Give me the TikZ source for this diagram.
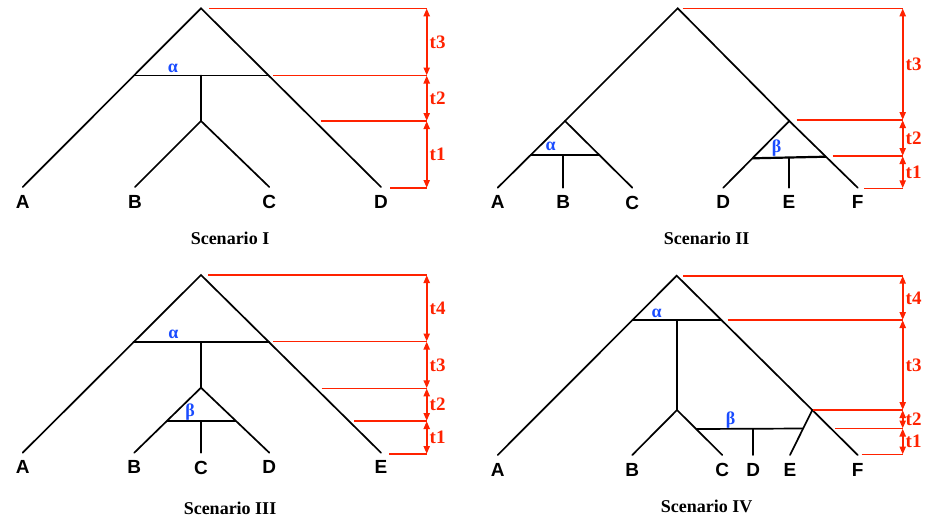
\documentclass[tikz,border=0pt]{standalone}
\usepackage{fontspec}
\setmainfont{Liberation Serif}
\newfontfamily\leaffont{Liberation Sans}
\definecolor{timered}{HTML}{FF2200}
\definecolor{hybblue}{HTML}{1A4CFF}
\usetikzlibrary{arrows.meta, positioning}

\begin{document}
\begin{tikzpicture}[x=1pt, y=-1pt, >={Triangle[length=8pt, width=6pt]},
  branch/.style={line width=1.7pt, line cap=round},
  hybrid/.style={line width=2.2pt},
  timeline/.style={line width=1.6pt, timered},
  timearrow/.style={<->, line width=2pt, timered},
  leaf/.style={font=\leaffont\bfseries\fontsize{19}{19}\selectfont, inner sep=0pt, below=8pt of #1},
  tlab/.style={font=\bfseries\fontsize{19}{19}\selectfont, timered, right, inner sep=2pt},
  greek/.style={font=\bfseries\fontsize{18}{18}\selectfont, hybblue, inner sep=0pt},
  caption/.style={font=\bfseries\fontsize{18}{18}\selectfont}]
  \useasboundingbox (0,0) rectangle (925,520);

  % Scenario I
  \coordinate (Iroot) at (201,8.3);
  \coordinate (Ial) at (134,75.5);
  \coordinate (Iar) at (268.7,75.5);
  \coordinate (Iam) at (201,75.5);
  \coordinate (Ibc) at (201,121);
  \coordinate (IA) at (22.7,187);
  \coordinate (IB) at (135,187);
  \coordinate (IC) at (269.3,187);
  \coordinate (ID) at (381,187);
  \draw[branch] (IA) -- (Iroot) -- (ID);
  \draw[branch] (Ial) -- (Iar);
  \draw[branch] (Iam) -- (Ibc);
  \draw[branch] (IB) -- (Ibc) -- (IC);
  \node[greek] (Ialpha) at (173,68.3) {α};
  \node[leaf=IA] (IlA) {A};
  \node[leaf=IB] (IlB) {B};
  \node[leaf=IC] (IlC) {C};
  \node[leaf=ID] (IlD) {D};
  \coordinate (It3a) at (209,8.3);   \coordinate (It3b) at (426.7,8.3);
  \coordinate (It2a) at (273.3,75.5); \coordinate (It2b) at (426.7,75.5);
  \coordinate (It1a) at (320.7,121); \coordinate (It1b) at (426.7,121);
  \coordinate (It0a) at (390,188);   \coordinate (It0b) at (426.7,188);
  \foreach \t in {3,2,1,0} \draw[timeline] (It\t a) -- (It\t b);
  \draw[timearrow] (It3b) -- node[tlab] {t3} (It2b);
  \draw[timearrow] (It2b) -- node[tlab] {t2} (It1b);
  \draw[timearrow] (It1b) -- node[tlab] {t1} (It0b);
  \node[caption] (Icap) at (230,238.3) {Scenario I};

  % Scenario II
  \coordinate (IIroot) at (677.7,8.3);
  \coordinate (IIl) at (565,121);
  \coordinate (IIr) at (789.3,121);
  \coordinate (IIA) at (497.7,187.7);
  \coordinate (IIB) at (563.3,187.7);
  \coordinate (IIC) at (632.3,187.7);
  \coordinate (IID) at (723.3,187.7);
  \coordinate (IIE) at (789,187.7);
  \coordinate (IIF) at (857.7,187.7);
  \coordinate (IIal) at (530.7,155);
  \coordinate (IIar) at (599.3,155);
  \coordinate (IIam) at (563.3,155);
  \coordinate (IIbl) at (752.4,158.3);
  \coordinate (IIbr) at (825.9,156.7);
  \coordinate (IIbm) at (789,157.5);
  \draw[branch] (IIl) -- (IIroot) -- (IIr);
  \draw[branch] (IIA) -- (IIl) -- (IIC);
  \draw[branch] (IID) -- (IIr) -- (IIF);
  \draw[branch] (IIal) -- (IIar);
  \draw[branch] (IIam) -- (IIB);
  \draw[hybrid] (IIbl) -- (IIbr);
  \draw[branch] (IIbm) -- (IIE);
  \node[greek] (IIalpha) at (550.7,146.7) {α};
  \node[greek] (IIbeta) at (776.7,148.3) {β};
  \foreach \l in {A,B,C,D,E,F} \node[leaf=II\l] (IIl\l) {\l};
  \coordinate (IIt3a) at (682.7,8.3);  \coordinate (IIt3b) at (902.7,8.3);
  \coordinate (IIt2a) at (796.7,120);  \coordinate (IIt2b) at (902.7,120);
  \coordinate (IIt1a) at (832.7,156);  \coordinate (IIt1b) at (902.7,156);
  \coordinate (IIt0a) at (864.3,188.3); \coordinate (IIt0b) at (902.7,188.3);
  \foreach \t in {3,2,1,0} \draw[timeline] (IIt\t a) -- (IIt\t b);
  \draw[timearrow] (IIt3b) -- node[tlab] {t3} (IIt2b);
  \draw[timearrow] (IIt2b) -- node[tlab] {t2} (IIt1b);
  \draw[timearrow] (IIt1b) -- node[tlab] {t1} (IIt0b);
  \node[caption] (IIcap) at (706.7,238.3) {Scenario II};

  % Scenario III
  \coordinate (IIIroot) at (201,275);
  \coordinate (IIIal) at (133.4,342.3);
  \coordinate (IIIar) at (269.2,342.3);
  \coordinate (IIIam) at (201,342.3);
  \coordinate (IIIbt) at (201,387.7);
  \coordinate (IIIbl) at (166.8,421);
  \coordinate (IIIbr) at (236,421);
  \coordinate (IIIbm) at (201,421);
  \coordinate (IIIA) at (22.7,452.7);
  \coordinate (IIIB) at (134.3,452.7);
  \coordinate (IIIC) at (201,452.7);
  \coordinate (IIID) at (269.3,452.7);
  \coordinate (IIIE) at (381,452.7);
  \draw[branch] (IIIA) -- (IIIroot) -- (IIIE);
  \draw[branch] (IIIal) -- (IIIar);
  \draw[branch] (IIIam) -- (IIIbt);
  \draw[branch] (IIIB) -- (IIIbt) -- (IIID);
  \draw[hybrid, line width=2.8pt] (IIIbl) -- (IIIbr);
  \draw[branch] (IIIbm) -- (IIIC);
  \node[greek] (IIIalpha) at (173.3,334) {α};
  \node[greek] (IIIbeta) at (190,411.7) {β};
  \foreach \l in {A,B,C,D,E} \node[leaf=III\l] (IIIl\l) {\l};
  \coordinate (IIIt4a) at (208.3,275);   \coordinate (IIIt4b) at (426.7,275);
  \coordinate (IIIt3a) at (273.3,341.5); \coordinate (IIIt3b) at (426.7,341.5);
  \coordinate (IIIt2a) at (321.7,388.3); \coordinate (IIIt2b) at (426.7,388.3);
  \coordinate (IIIt1a) at (354,421);     \coordinate (IIIt1b) at (426.7,421);
  \coordinate (IIIt0a) at (389.3,454);   \coordinate (IIIt0b) at (426.7,454);
  \foreach \t in {4,3,2,1,0} \draw[timeline] (IIIt\t a) -- (IIIt\t b);
  \draw[timearrow] (IIIt4b) -- node[tlab] {t4} (IIIt3b);
  \draw[timearrow] (IIIt3b) -- node[tlab] {t3} (IIIt2b);
  \draw[timearrow] (IIIt2b) -- node[tlab] {t2} (IIIt1b);
  \draw[timearrow] (IIIt1b) -- node[tlab] {t1} (IIIt0b);
  \node[caption] (IIIcap) at (230,508.3) {Scenario III};

  % Scenario IV
  \coordinate (IVroot) at (676.7,275.7);
  \coordinate (IVal) at (632.5,320);
  \coordinate (IVar) at (721.4,320);
  \coordinate (IVam) at (677,320);
  \coordinate (IVbc) at (677,410);
  \coordinate (IVef) at (812.3,410);
  \coordinate (IVbl) at (696.5,429);
  \coordinate (IVbr) at (803,428.5);
  \coordinate (IVbm) at (753.3,429);
  \coordinate (IVA) at (497.7,455);
  \coordinate (IVB) at (632.3,455);
  \coordinate (IVC) at (722.3,455);
  \coordinate (IVD) at (753.3,455);
  \coordinate (IVE) at (790,455);
  \coordinate (IVF) at (857.7,455);
  \draw[branch] (IVA) -- (IVroot) -- (IVF);
  \draw[branch] (IVal) -- (IVar);
  \draw[branch] (IVam) -- (IVbc);
  \draw[branch] (IVB) -- (IVbc) -- (IVC);
  \draw[branch] (IVef) -- (IVE);
  \draw[branch] (IVbl) -- (IVbr);
  \draw[branch] (IVbm) -- (IVD);
  \node[greek] (IValpha) at (656.7,313.3) {α};
  \node[greek] (IVbeta) at (730.7,420) {β};
  \foreach \l in {A,B,C,D,E,F} \node[leaf=IV\l] (IVl\l) {\l};
  \coordinate (IVt4a) at (683.3,275.7); \coordinate (IVt4b) at (902.7,275.7);
  \coordinate (IVt3a) at (727.7,320);   \coordinate (IVt3b) at (902.7,320);
  \coordinate (IVt2a) at (813.3,410);   \coordinate (IVt2b) at (902.7,410);
  \coordinate (IVt1a) at (835,428.5);   \coordinate (IVt1b) at (902.7,428.5);
  \coordinate (IVt0a) at (861.7,454.5); \coordinate (IVt0b) at (902.7,454.5);
  \foreach \t in {4,3,2,1,0} \draw[timeline] (IVt\t a) -- (IVt\t b);
  \draw[timearrow] (IVt4b) -- node[tlab] {t4} (IVt3b);
  \draw[timearrow] (IVt3b) -- node[tlab] {t3} (IVt2b);
  \draw[timearrow] (IVt2b) -- node[tlab] {t2} (IVt1b);
  \draw[timearrow] (IVt1b) -- node[tlab] {t1} (IVt0b);
  \node[caption] (IVcap) at (706.7,506.7) {Scenario IV};
\end{tikzpicture}
\end{document}
